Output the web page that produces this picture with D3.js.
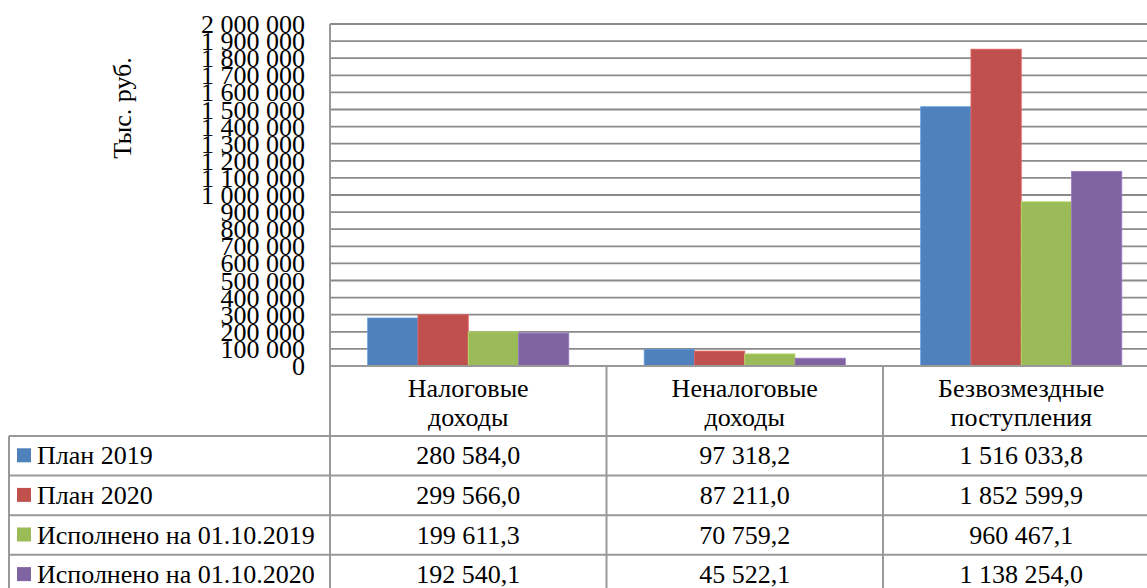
<!DOCTYPE html>
<html><head><meta charset="utf-8">
<script src="https://cdn.jsdelivr.net/npm/d3@7"></script>
<style>
html,body{margin:0;padding:0;background:#fff;overflow:hidden;}
svg{display:block;}
</style></head>
<body>
<svg id="chart" width="1147" height="588"></svg>
<script>
const categories = [["Налоговые","доходы"],["Неналоговые","доходы"],["Безвозмездные","поступления"]];
const seriesNames = ["План 2019","План 2020","Исполнено на 01.10.2019","Исполнено на 01.10.2020"];
const plan2019 = [280584.0, 97318.2, 1516033.8];
const plan2020 = [299566.0, 87211.0, 1852599.9];
const done2019 = [199611.3, 70759.2, 960467.1];
const done2020 = [192540.1, 45522.1, 1138254.0];
const seriesValues = [plan2019, plan2020, done2019, done2020];
const colors = ["#4F81BD","#C0504D","#9BBB59","#8064A2"];
const yTicks = d3.range(0, 2000001, 100000);
const yLabel = "Тыс. руб.";

const FONT = "Liberation Serif";
const loc = d3.formatLocale({decimal:",", thousands:"\u00a0", grouping:[3], currency:["",""]});
const fmtTick = loc.format(",.0f");
const fmtVal = loc.format(",.1f");

const svg = d3.select("#chart");
const pLeft = 330, pRight = 1159.5, pTop = 24, pBottom = 366;
const tableLeft = 9, headerH = 70, rowH = 39.6;
const fs = 26;

const catKeys = categories.map((c,i)=>i);
const x0 = d3.scaleBand().domain(catKeys).range([pLeft, pRight]).paddingInner(0).paddingOuter(0);
const x1 = d3.scaleBand().domain(d3.range(seriesNames.length)).range([0, x0.bandwidth()]).paddingInner(0).paddingOuter(0.75);
const y = d3.scaleLinear().domain([0, 2000000]).range([pBottom, pTop]);

// gridlines
svg.append("g").selectAll("line").data(yTicks.filter(d=>d>0)).join("line")
  .attr("x1", pLeft).attr("x2", pRight)
  .attr("y1", d=>y(d)).attr("y2", d=>y(d))
  .attr("stroke", "#8a8a8a").attr("stroke-width", 1.8);

// y axis labels via d3 axis
const yAxis = d3.axisLeft(y).tickValues(yTicks).tickFormat(fmtTick).tickSize(0).tickPadding(0);
const gy = svg.append("g").attr("transform", `translate(${pLeft-25},0)`).call(yAxis)
  .attr("font-family", FONT).attr("font-size", fs);
gy.select(".domain").remove();
gy.selectAll("text").attr("font-size", fs).attr("font-family", FONT).attr("fill","#000").attr("dy","0.33em");

// y label
svg.append("text").attr("transform", `translate(131,108) rotate(-90)`)
  .attr("text-anchor","middle").attr("font-family", FONT).attr("font-size", fs).attr("fill","#000").text(yLabel);

// bars
const gb = svg.append("g");
seriesValues.forEach((vals, si) => {
  gb.selectAll(null).data(vals).join("rect")
    .attr("x", (d,i)=>x0(i)+x1(si))
    .attr("width", x1.bandwidth())
    .attr("y", d=>y(d))
    .attr("height", d=>y(0)-y(d))
    .attr("fill", colors[si])
    .attr("stroke", d3.color(colors[si]).brighter(0.5))
    .attr("stroke-width", 0.8);
});

// table
const lineColor = "#999";
const lw = 2;
const tg = svg.append("g").attr("font-family", FONT);
const rowsTop = pBottom + headerH;
tg.append("line").attr("x1", pLeft).attr("x2", pRight+5).attr("y1", pBottom).attr("y2", pBottom).attr("stroke", lineColor).attr("stroke-width", lw);
for (let r = 0; r <= seriesNames.length; r++) {
  const yy = rowsTop + r*rowH;
  tg.append("line").attr("x1", tableLeft).attr("x2", pRight+5).attr("y1", yy).attr("y2", yy).attr("stroke", lineColor).attr("stroke-width", lw);
}
tg.append("line").attr("x1", tableLeft).attr("x2", tableLeft).attr("y1", rowsTop).attr("y2", 600).attr("stroke", lineColor).attr("stroke-width", lw);
tg.append("line").attr("x1", pLeft).attr("x2", pLeft).attr("y1", pTop).attr("y2", 600).attr("stroke", lineColor).attr("stroke-width", lw);
catKeys.slice(1).forEach(i=>{
  tg.append("line").attr("x1", x0(i)).attr("x2", x0(i)).attr("y1", pBottom).attr("y2", 600).attr("stroke", lineColor).attr("stroke-width", lw);
});
tg.append("line").attr("x1", pRight).attr("x2", pRight).attr("y1", pBottom).attr("y2", 600).attr("stroke", lineColor).attr("stroke-width", lw);

// header labels
categories.forEach((lines, i) => {
  const cx = x0(i) + x0.bandwidth()/2;
  lines.forEach((t, li) => {
    tg.append("text").attr("x", cx).attr("y", pBottom + 21.5 + li*29.5).attr("dy","0.35em")
      .attr("text-anchor","middle").attr("font-family", FONT).attr("font-size", fs).attr("fill","#000").text(t);
  });
});

// rows
seriesNames.forEach((name, si) => {
  const cy = rowsTop + si*rowH + rowH/2;
  tg.append("rect").attr("x", 17).attr("y", cy-7.5).attr("width", 14).attr("height", 14).attr("fill", colors[si]);
  tg.append("text").attr("x", 37).attr("y", cy).attr("dy","0.33em").attr("font-family", FONT).attr("font-size", fs).attr("fill","#000").text(name);
  seriesValues[si].forEach((v, ci) => {
    tg.append("text").attr("x", x0(ci)+x0.bandwidth()/2).attr("y", cy).attr("dy","0.33em")
      .attr("text-anchor","middle").attr("font-family", FONT).attr("font-size", fs).attr("fill","#000").text(fmtVal(v));
  });
});
</script>
</body></html>
